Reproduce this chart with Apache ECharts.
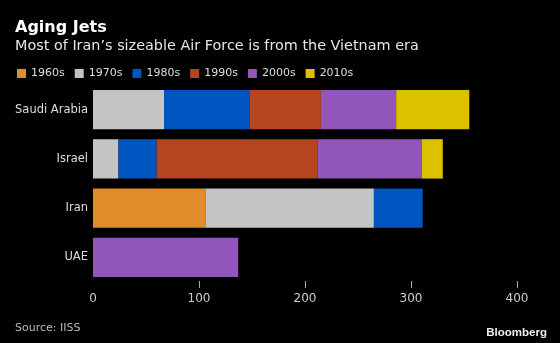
<!DOCTYPE html>
<html>
<head>
<meta charset="utf-8">
<script src="https://cdn.jsdelivr.net/npm/echarts@6/dist/echarts.min.js"></script>
<style>html,body{margin:0;padding:0;background:#000;}#c{width:560px;height:343px;}</style>
</head>
<body>
<div id="c"></div>
<script>
const categories = ['Saudi Arabia', 'Israel', 'Iran', 'UAE'];
const decades = ['1960s', '1970s', '1980s', '1990s', '2000s', '2010s'];
const s1960s = [0, 0, 106, 0];
const s1970s = [67, 24, 159, 0];
const s1980s = [81, 36, 46, 0];
const s1990s = [67, 152, 0, 0];
const s2000s = [71, 98, 0, 137];
const s2010s = [69, 20, 0, 0];
const xTicks = [0, 100, 200, 300, 400];
const tickMarks = [100, 200, 300, 400];

const values = [s1960s, s1970s, s1980s, s1990s, s2000s, s2010s];
const colors = ['#E08C2A', '#C4C4C4', '#0055C0', '#B5441F', '#9256BA', '#DBC100'];
const font = 'DejaVu Sans';

const barSeries = decades.map((d, i) => ({
  name: d, type: 'bar', stack: 'total', data: values[i], barCategoryGap: '20%',
  itemStyle: {color: colors[i]}
}));

const tickSeries = {
  name: 'ticks', type: 'custom', clip: false, silent: true,
  data: tickMarks.map(v => [v, categories[categories.length - 1]]),
  encode: {x: 0, y: 1},
  renderItem: function (params, api) {
    const p = api.coord([api.value(0), categories[categories.length - 1]]);
    const cs = params.coordSys;
    const x = Math.round(p[0]) + 0.5;
    const yb = cs.y + cs.height;
    return {
      type: 'line',
      shape: {x1: x, y1: yb - 1, x2: x, y2: yb + 6},
      style: {stroke: '#aaaaaa', lineWidth: 1}
    };
  }
};

const chart = echarts.init(document.getElementById('c'), null, {renderer: 'canvas'});
chart.setOption({
  backgroundColor: '#000',
  animation: false,
  title: [
    {text: 'Aging Jets', left: 10, top: 15, textStyle: {color: '#fff', fontSize: 16, fontWeight: 'bold', fontFamily: font},
     subtext: 'Most of Iran\u2019s sizeable Air Force is from the Vietnam era', itemGap: 3,
     subtextStyle: {color: '#e6e6e6', fontSize: 14.4, fontFamily: font}},
    {text: 'Source: IISS', left: 10, top: 318, textStyle: {color: '#bbb', fontSize: 11, fontWeight: 'normal', fontFamily: font}},
    {text: 'Bloomberg', right: 8, top: 322, textStyle: {color: '#eee', fontSize: 11.5, fontWeight: 'bold', fontFamily: 'Liberation Sans'}}
  ],
  legend: {
    data: decades, left: 12, top: 63, icon: 'rect', itemWidth: 9, itemHeight: 9, itemGap: 10,
    textStyle: {color: '#ddd', fontSize: 11, fontFamily: font}
  },
  grid: {left: 93, right: 43, top: 85, bottom: 61},
  xAxis: {
    type: 'value', min: xTicks[0], max: xTicks[xTicks.length - 1], interval: 100,
    splitLine: {show: false},
    axisLine: {show: false},
    axisTick: {show: false},
    axisLabel: {color: '#ccc', fontSize: 12, fontFamily: font, margin: 11}
  },
  yAxis: {
    type: 'category', data: categories, inverse: true,
    axisLine: {show: false}, axisTick: {show: false},
    axisLabel: {color: '#ddd', fontSize: 11.5, fontFamily: font, margin: 5}
  },
  series: barSeries.concat([tickSeries])
});
</script>
</body>
</html>
